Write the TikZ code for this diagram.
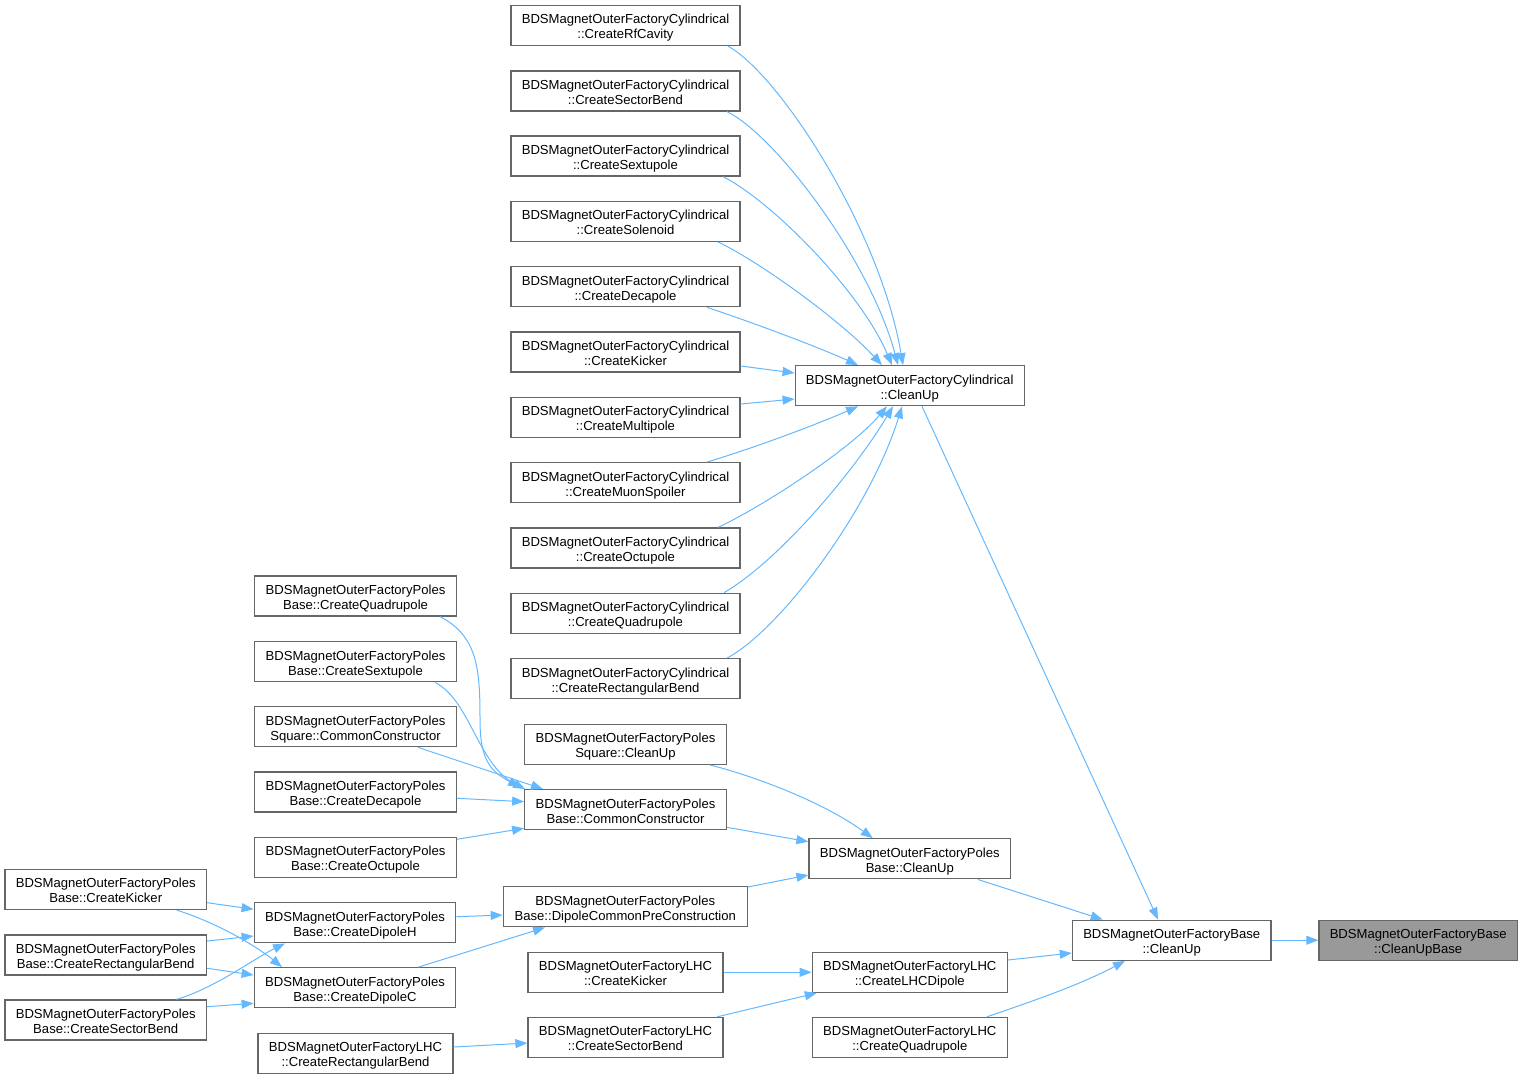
\documentclass[tikz,border=0pt]{standalone}
\usepackage{fontspec}
\setmainfont{Liberation Sans}
\usetikzlibrary{arrows.meta}
\definecolor{edgeblue}{HTML}{63B8FF}
\definecolor{boxgray}{HTML}{666666}
\definecolor{fillgray}{HTML}{999999}
\begin{document}
\begin{tikzpicture}[x=1pt,y=-1pt,
 box/.style={draw=boxgray, line width=1.3pt, fill=white, minimum height=40pt, inner sep=0pt, align=center, text height=26.8pt, text depth=0pt, font=\fontsize{13.1}{15}\selectfont},
 cylw/.style={box, minimum width=229pt},
 polw/.style={box, minimum width=201.5pt},
 lhcw/.style={box, minimum width=195pt},
 basew/.style={box, minimum width=198.5pt},
 edge/.style={draw=edgeblue, line width=1pt, -{Triangle[length=12pt,width=9pt]}},
]
\useasboundingbox (0,0) rectangle (1523,1079);
% Cylindrical column
\node[cylw] (rf)  at (625.5,25.5)  {BDSMagnetOuterFactoryCylindrical\\::CreateRfCavity};
\node[cylw] (csb) at (625.5,91)    {BDSMagnetOuterFactoryCylindrical\\::CreateSectorBend};
\node[cylw] (csx) at (625.5,156)   {BDSMagnetOuterFactoryCylindrical\\::CreateSextupole};
\node[cylw] (cso) at (625.5,221.3) {BDSMagnetOuterFactoryCylindrical\\::CreateSolenoid};
\node[cylw] (cde) at (625.5,286.7) {BDSMagnetOuterFactoryCylindrical\\::CreateDecapole};
\node[cylw] (cki) at (625.5,352)   {BDSMagnetOuterFactoryCylindrical\\::CreateKicker};
\node[cylw] (cmu) at (625.5,417.3) {BDSMagnetOuterFactoryCylindrical\\::CreateMultipole};
\node[cylw] (cms) at (625.5,482.7) {BDSMagnetOuterFactoryCylindrical\\::CreateMuonSpoiler};
\node[cylw] (coc) at (625.5,548)   {BDSMagnetOuterFactoryCylindrical\\::CreateOctupole};
\node[cylw] (cqu) at (625.5,613.3) {BDSMagnetOuterFactoryCylindrical\\::CreateQuadrupole};
\node[cylw] (crb) at (625.5,678.7) {BDSMagnetOuterFactoryCylindrical\\::CreateRectangularBend};
\node[cylw] (ccu) at (909.7,385.7) {BDSMagnetOuterFactoryCylindrical\\::CleanUp};
% Poles
\node[polw] (pqu) at (355.5,596)   {BDSMagnetOuterFactoryPoles\\Base::CreateQuadrupole};
\node[polw] (psx) at (355.5,661.7) {BDSMagnetOuterFactoryPoles\\Base::CreateSextupole};
\node[polw] (scc) at (355.5,726.7) {BDSMagnetOuterFactoryPoles\\Square::CommonConstructor};
\node[polw] (pde) at (355.5,792)   {BDSMagnetOuterFactoryPoles\\Base::CreateDecapole};
\node[polw] (poc) at (355.5,857.3) {BDSMagnetOuterFactoryPoles\\Base::CreateOctupole};
\node[polw] (scu) at (625.5,744.3) {BDSMagnetOuterFactoryPoles\\Square::CleanUp};
\node[polw] (pcc) at (625.5,809.7) {BDSMagnetOuterFactoryPoles\\Base::CommonConstructor};
\node[polw] (pcu) at (909.8,858.8) {BDSMagnetOuterFactoryPoles\\Base::CleanUp};
\node[box, minimum width=244pt] (dcp) at (625.3,906.8) {BDSMagnetOuterFactoryPoles\\Base::DipoleCommonPreConstruction};
\node[polw] (pki) at (105.7,889.5) {BDSMagnetOuterFactoryPoles\\Base::CreateKicker};
\node[polw] (prb) at (105.7,955)   {BDSMagnetOuterFactoryPoles\\Base::CreateRectangularBend};
\node[polw] (psb) at (105.7,1020)  {BDSMagnetOuterFactoryPoles\\Base::CreateSectorBend};
\node[polw] (pdh) at (355,922.8)   {BDSMagnetOuterFactoryPoles\\Base::CreateDipoleH};
\node[polw] (pdc) at (355,987.8)   {BDSMagnetOuterFactoryPoles\\Base::CreateDipoleC};
% LHC
\node[lhcw] (lrb) at (355.5,1053.2) {BDSMagnetOuterFactoryLHC\\::CreateRectangularBend};
\node[lhcw] (lki) at (625.5,972.3)  {BDSMagnetOuterFactoryLHC\\::CreateKicker};
\node[lhcw] (lsb) at (625.5,1037.5) {BDSMagnetOuterFactoryLHC\\::CreateSectorBend};
\node[lhcw] (lld) at (909.8,972.3)  {BDSMagnetOuterFactoryLHC\\::CreateLHCDipole};
\node[lhcw] (lqu) at (909.8,1037.5) {BDSMagnetOuterFactoryLHC\\::CreateQuadrupole};
% Base
\node[basew] (fbc) at (1171.7,940.2) {BDSMagnetOuterFactoryBase\\::CleanUp};
\node[basew, fill=fillgray] (cub) at (1418.2,940.2) {BDSMagnetOuterFactoryBase\\::CleanUpBase};
% Edges
\draw[edge] (fbc) -- (cub);
\draw[edge] ([xshift=12.3pt]ccu.south) -- ([xshift=-13.7pt]fbc.north);
\draw[edge] ([xshift=68pt]pcu.south) -- ([xshift=-69pt]fbc.north);
\draw[edge] ([yshift=12.3pt]lld.east) -- ([yshift=-12.8pt]fbc.west);
\draw[edge] ([xshift=77pt]lqu.north) .. controls (1030,1002) and (1080,985) .. ([xshift=-46.7pt]fbc.south);
\draw[edge] (lki) -- (lld);
\draw[edge] ([xshift=91.5pt]lsb.north) -- ([xshift=-93pt]lld.south);
\draw[edge] ([yshift=6.2pt]lrb.east) -- ([yshift=-5.5pt]lsb.west);
\draw[edge] ([yshift=19.8pt]dcp.east) -- ([yshift=-16.2pt]pcu.west);
\draw[edge] ([yshift=-17.6pt]pcc.east) -- ([yshift=17.1pt]pcu.west);
\draw[edge] ([xshift=84.5pt]scu.south) .. controls (750,775) and (820,800) .. ([xshift=-37pt]pcu.north);
\draw[edge] ([yshift=6.1pt]pdh.east) -- ([yshift=-8.2pt]dcp.west);
\draw[edge] ([xshift=63.3pt]pdc.north) -- ([xshift=-80.3pt]dcp.south);
\draw[edge] ([yshift=-13.2pt]pki.east) -- ([yshift=13.5pt]pdh.west);
\draw[edge] ([xshift=71pt]pki.south) .. controls (215,922) and (255,945) .. ([xshift=-73pt]pdc.north);
\draw[edge] ([yshift=14pt]prb.east) -- ([yshift=-13.2pt]pdh.west);
\draw[edge] ([yshift=-13.3pt]prb.east) -- ([yshift=12.8pt]pdc.west);
\draw[edge] ([xshift=71pt]psb.north) .. controls (215,988) and (255,958) .. ([xshift=-70pt]pdh.south);
\draw[edge] ([yshift=13.3pt]psb.east) -- ([yshift=-15.5pt]pdc.west);
\draw[edge] ([xshift=84.5pt]pqu.south) .. controls (478,636) and (480,670) .. (480,720) .. controls (480,762) and (492,772) .. ([xshift=-4pt,yshift=2pt]pcc.north west);
\draw[edge] ([xshift=79.5pt]psx.south) .. controls (470,700) and (478,765) .. ([xshift=1pt]pcc.north west);
\draw[edge] ([xshift=62.5pt]scc.south) -- ([xshift=-82.5pt]pcc.north);
\draw[edge] ([yshift=-6.3pt]pde.east) -- ([yshift=8pt]pcc.west);
\draw[edge] ([yshift=18pt]poc.east) -- ([yshift=-18.6pt]pcc.west);
% Cylindrical fan
\draw[edge] ([xshift=102.5pt]rf.south) .. controls (780,75) and (880,230) .. ([xshift=-6.7pt]ccu.north);
\draw[edge] ([xshift=101.5pt]csb.south) .. controls (775,135) and (870,260) .. ([xshift=-11.7pt]ccu.north);
\draw[edge] ([xshift=97.5pt]csx.south) .. controls (770,200) and (860,290) .. ([xshift=-17.7pt]ccu.north);
\draw[edge] ([xshift=92.5pt]cso.south) .. controls (760,262) and (840,320) .. ([xshift=-27.7pt]ccu.north);
\draw[edge] ([xshift=81.5pt]cde.south) .. controls (760,325) and (820,348) .. ([xshift=-51.7pt]ccu.north);
\draw[edge] ([yshift=-14pt]cki.east) -- ([yshift=12.7pt]ccu.west);
\draw[edge] ([yshift=13.3pt]cmu.east) -- ([yshift=-13.3pt]ccu.west);
\draw[edge] ([xshift=81.5pt]cms.north) .. controls (760,446) and (820,423) .. ([xshift=-51.7pt]ccu.south);
\draw[edge] ([xshift=92.5pt]coc.north) .. controls (760,508) and (850,450) .. ([xshift=-22.7pt]ccu.south);
\draw[edge] ([xshift=98.5pt]cqu.north) .. controls (780,560) and (855,470) .. ([xshift=-16.7pt]ccu.south);
\draw[edge] ([xshift=101.5pt]crb.north) .. controls (780,630) and (870,510) .. ([xshift=-7.7pt]ccu.south);
\end{tikzpicture}
\end{document}
